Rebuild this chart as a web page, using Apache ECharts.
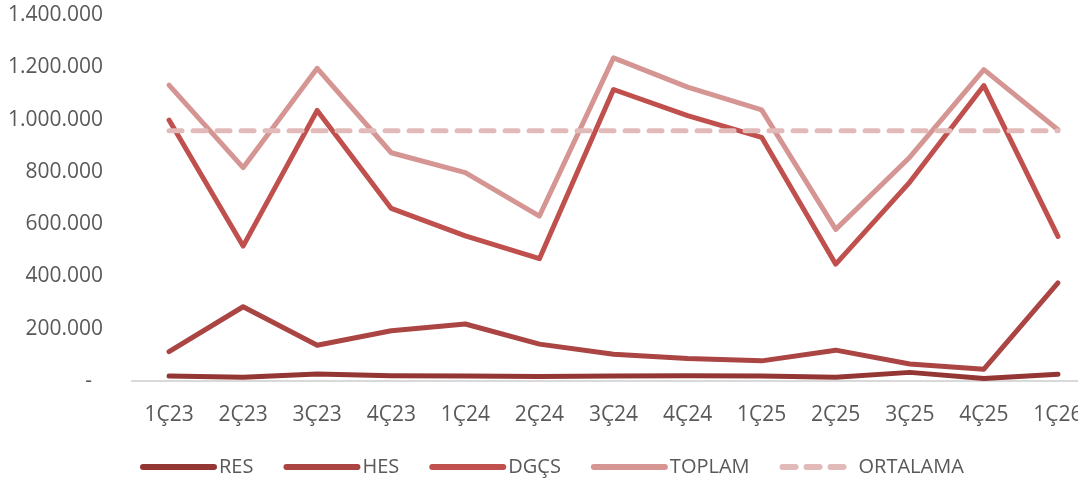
<!DOCTYPE html>
<html>
<head>
<meta charset="utf-8">
<script src="https://cdn.jsdelivr.net/npm/echarts@6/dist/echarts.min.js"></script>
<style>
html,body{margin:0;padding:0;background:#fff;}
#chart{width:1078px;height:483px;}
</style>
</head>
<body>
<div id="chart"></div>
<script>
const categories = ['1Ç23','2Ç23','3Ç23','4Ç23','1Ç24','2Ç24','3Ç24','4Ç24','1Ç25','2Ç25','3Ç25','4Ç25','1Ç26'];
const resValues = [19000, 14000, 27000, 20000, 19000, 17000, 19000, 20000, 19000, 14000, 33000, 10000, 26000];
const hesValues = [112000, 284000, 137000, 192000, 218000, 141000, 102000, 86000, 77000, 118000, 65000, 45000, 375000];
const dgcsValues = [998000, 516000, 1035000, 660000, 555000, 468000, 1115000, 1015000, 932000, 447000, 761000, 1130000, 553000];
const toplamValues = [1132000, 816000, 1196000, 873000, 797000, 631000, 1236000, 1124000, 1037000, 580000, 856000, 1191000, 961000];
const ortalamaValues = [957000, 957000, 957000, 957000, 957000, 957000, 957000, 957000, 957000, 957000, 957000, 957000, 957000];
const seriesNames = ['RES','HES','DGÇS','TOPLAM','ORTALAMA'];
const yTicks = { min: 0, max: 1400000, interval: 200000 };

const colors = ['#943634', '#aa4543', '#c0504d', '#d49593', '#e2baba'];
const FONT = 'Open Sans';
const TEXT = '#595959';

function fmt(v) {
  if (v === 0) return '-  ';
  return String(v).replace(/\B(?=(\d{3})+(?!\d))/g, '.');
}

function mkLine(name, data, color, dashed) {
  return {
    name: name,
    type: 'line',
    data: data,
    symbol: 'none',
    showSymbol: false,
    lineStyle: {
      color: color,
      width: 5,
      cap: 'round',
      join: 'round',
      type: dashed ? [13, 11] : 'solid'
    },
    itemStyle: { color: color },
    emphasis: { disabled: true },
    animation: false
  };
}

const chart = echarts.init(document.getElementById('chart'), null, { renderer: 'canvas' });
chart.setOption({
  animation: false,
  backgroundColor: '#ffffff',
  grid: { left: 132, width: 963, top: 15, bottom: 102, containLabel: false, outerBoundsMode: 'none' },
  legend: {
    data: seriesNames,
    left: 135,
    top: 452,
    itemWidth: 71,
    itemHeight: 6,
    itemGap: 30,
    itemStyle: { opacity: 0 },
    lineStyle: { width: 6, cap: 'round' },
    textStyle: { fontFamily: FONT, fontSize: 20, color: TEXT }
  },
  xAxis: {
    type: 'category',
    data: categories,
    boundaryGap: true,
    axisLine: { show: true, lineStyle: { color: '#d9d9d9', width: 2 } },
    axisTick: { show: false },
    splitLine: { show: false },
    axisLabel: { fontFamily: FONT, fontSize: 21, color: TEXT, margin: 24, interval: 0, hideOverlap: false }
  },
  yAxis: {
    type: 'value',
    min: yTicks.min,
    max: yTicks.max,
    interval: yTicks.interval,
    axisLine: { show: false },
    axisTick: { show: false },
    splitLine: { show: false },
    axisLabel: { fontFamily: FONT, fontSize: 21, color: TEXT, margin: 29, formatter: fmt }
  },
  series: [
    mkLine(seriesNames[0], resValues, colors[0], false),
    mkLine(seriesNames[1], hesValues, colors[1], false),
    mkLine(seriesNames[2], dgcsValues, colors[2], false),
    mkLine(seriesNames[3], toplamValues, colors[3], false),
    mkLine(seriesNames[4], ortalamaValues, colors[4], true)
  ]
});
</script>
</body>
</html>
